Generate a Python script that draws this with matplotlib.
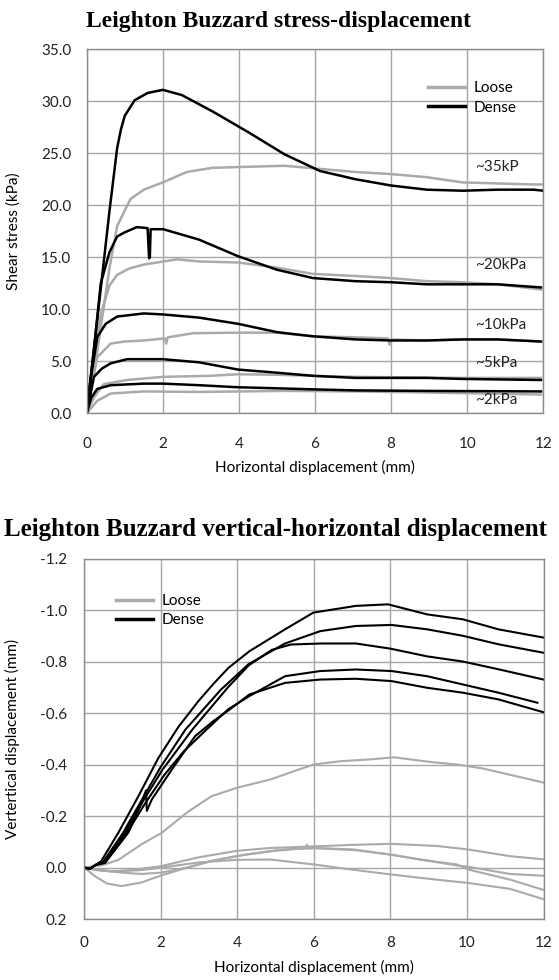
import matplotlib
matplotlib.use("Agg")
import matplotlib.pyplot as plt
from matplotlib.ticker import FormatStrFormatter
from matplotlib.lines import Line2D

plt.rcParams['font.family'] = ['Lato', 'DejaVu Sans']
plt.rcParams['axes.unicode_minus'] = False

# ---- stress vs horizontal displacement (mm, kPa) ----
d35_x = [0, 0.2, 0.4, 0.6, 0.8, 0.9, 1.0, 1.26, 1.6, 2.0, 2.5, 3.32, 4.26, 5.2, 6.13, 7.07, 8.0, 8.94, 9.88, 10.8, 11.75, 12.0]
d35_y = [0, 6.5, 13.0, 19.5, 25.5, 27.3, 28.6, 30.1, 30.8, 31.1, 30.6, 29.0, 27.0, 24.9, 23.3, 22.5, 21.9, 21.5, 21.4, 21.5, 21.5, 21.4]
l35_x = [0, 0.2, 0.4, 0.6, 0.8, 1.15, 1.5, 2.0, 2.63, 3.3, 4.2, 5.2, 6.13, 7.07, 8.0, 8.94, 9.88, 10.8, 11.75, 12.0]
l35_y = [0, 4.0, 9.0, 14.0, 18.0, 20.6, 21.5, 22.2, 23.2, 23.6, 23.7, 23.8, 23.5, 23.2, 23.0, 22.7, 22.2, 22.1, 22.0, 22.0]

d20_x = [0, 0.2, 0.37, 0.6, 0.8, 1.0, 1.32, 1.6, 1.64, 1.66, 1.68, 2.01, 2.95, 3.98, 5.0, 5.95, 7.07, 8.0, 8.94, 9.88, 10.8, 11.94]
d20_y = [0, 6.5, 12.5, 15.5, 17.0, 17.4, 17.9, 17.8, 14.9, 15.0, 17.7, 17.7, 16.7, 15.1, 13.8, 13.0, 12.7, 12.6, 12.4, 12.4, 12.4, 12.1]
l20_x = [0, 0.15, 0.37, 0.6, 0.8, 1.1, 1.5, 2.37, 2.95, 3.98, 5.0, 5.95, 7.07, 8.0, 8.94, 9.88, 10.8, 11.94]
l20_y = [0, 4.5, 9.5, 12.3, 13.3, 13.9, 14.3, 14.8, 14.6, 14.5, 14.0, 13.4, 13.2, 13.0, 12.7, 12.6, 12.4, 11.9]

d10_x = [0, 0.1, 0.28, 0.5, 0.8, 1.5, 2.01, 2.95, 3.98, 5.0, 5.95, 7.07, 8.0, 8.94, 9.88, 10.8, 11.94]
d10_y = [0, 3.2, 7.35, 8.6, 9.3, 9.6, 9.5, 9.2, 8.6, 7.8, 7.4, 7.1, 7.0, 7.0, 7.1, 7.1, 6.9]
l10_x = [0, 0.1, 0.28, 0.63, 1.0, 1.5, 2.05, 2.09, 2.13, 2.8, 3.98, 5.0, 5.95, 7.07, 7.92, 7.96, 8.0, 8.94, 9.88, 10.8, 11.94]
l10_y = [0, 2.2, 5.4, 6.7, 6.9, 7.0, 7.2, 6.7, 7.3, 7.7, 7.75, 7.75, 7.4, 7.3, 7.2, 6.6, 7.1, 7.0, 7.1, 7.1, 6.9]

d5_x = [0, 0.19, 0.4, 0.63, 1.06, 2.0, 2.95, 3.98, 5.0, 5.95, 7.07, 8.0, 8.94, 9.88, 11.94]
d5_y = [0, 3.5, 4.3, 4.8, 5.2, 5.2, 4.9, 4.2, 3.9, 3.6, 3.4, 3.4, 3.4, 3.3, 3.2]
l5_x = [0, 0.2, 0.45, 1.06, 2.0, 3.23, 3.98, 5.0, 5.95, 7.07, 9.88, 11.94]
l5_y = [0, 1.6, 2.8, 3.2, 3.5, 3.6, 3.75, 3.7, 3.6, 3.5, 3.4, 3.4]

d2_x = [0, 0.12, 0.28, 0.63, 1.5, 2.01, 2.95, 3.98, 5.0, 5.95, 7.07, 8.94, 11.94]
d2_y = [0, 1.5, 2.35, 2.7, 2.85, 2.85, 2.7, 2.5, 2.4, 2.3, 2.2, 2.15, 2.1]
l2_x = [0, 0.28, 0.63, 1.5, 2.95, 5.2, 7.07, 8.94, 11.94]
l2_y = [0, 1.2, 1.9, 2.1, 2.05, 2.15, 2.1, 2.0, 1.8]

labels_x = [10.2, 10.2, 10.2, 10.2, 10.2]
labels_y = [23.7, 14.3, 8.5, 4.8, 1.3]
labels_txt = ['~35kP', '~20kPa', '~10kPa', '~5kPa', '~2kPa']

# ---- vertical vs horizontal displacement (mm) ----
va_x = [0, 0.15, 0.3, 0.45, 0.9, 1.42, 1.94, 2.46, 2.98, 3.39, 3.77, 4.32, 5.25, 5.99, 7.1, 7.94, 8.96, 9.89, 10.82, 12.0]
va_y = [0, 0.005, -0.01, -0.025, -0.136, -0.277, -0.425, -0.545, -0.645, -0.715, -0.775, -0.84, -0.925, -0.99, -1.016, -1.022, -0.983, -0.964, -0.925, -0.893]
vb_x = [0, 0.15, 0.3, 0.5, 1.0, 1.5, 2.0, 2.65, 3.57, 4.3, 5.25, 6.17, 7.1, 8.03, 8.96, 9.89, 10.82, 12.0]
vb_y = [0, 0.005, -0.01, -0.022, -0.13, -0.26, -0.39, -0.536, -0.69, -0.79, -0.87, -0.918, -0.938, -0.942, -0.925, -0.9, -0.867, -0.834]
vc_x = [0, 0.15, 0.3, 0.5, 1.05, 1.55, 2.05, 2.83, 3.76, 4.3, 4.9, 5.4, 6.2, 7.1, 8.0, 8.96, 9.89, 10.82, 12.0]
vc_y = [0, 0.005, -0.01, -0.02, -0.13, -0.26, -0.38, -0.536, -0.70, -0.785, -0.845, -0.866, -0.87, -0.87, -0.85, -0.82, -0.80, -0.77, -0.73]
vd_x = [0, 0.15, 0.3, 0.55, 1.1, 1.6, 2.1, 2.6, 3.2, 3.77, 4.32, 5.25, 6.17, 7.1, 8.03, 8.96, 9.89, 10.82, 11.84]
vd_y = [0, 0.005, -0.01, -0.02, -0.13, -0.25, -0.36, -0.45, -0.536, -0.615, -0.666, -0.743, -0.763, -0.769, -0.763, -0.743, -0.711, -0.679, -0.64]
ve_x = [0, 0.15, 0.3, 0.55, 1.16, 1.5, 1.62, 1.64, 1.77, 2.29, 2.9, 3.39, 3.77, 4.32, 5.25, 6.17, 7.1, 8.03, 8.96, 9.89, 10.82, 12.0]
ve_y = [0, 0.005, -0.01, -0.018, -0.136, -0.25, -0.30, -0.22, -0.264, -0.38, -0.51, -0.57, -0.61, -0.672, -0.717, -0.73, -0.733, -0.724, -0.698, -0.679, -0.653, -0.603]

vl1_x = [0, 0.5, 0.9, 1.5, 2.03, 2.7, 3.33, 4.0, 4.87, 5.5, 6.0, 6.7, 7.48, 8.1, 9.04, 9.74, 10.4, 11.13, 12.0]
vl1_y = [0, -0.01, -0.03, -0.09, -0.135, -0.215, -0.277, -0.31, -0.342, -0.375, -0.40, -0.413, -0.42, -0.428, -0.41, -0.40, -0.385, -0.36, -0.33]
vl2_x = [0, 0.3, 0.7, 1.2, 2.0, 3.0, 4.0, 4.87, 6.0, 7.0, 8.02, 9.2, 10.04, 11.13, 12.0]
vl2_y = [0, 0.01, 0.015, 0.01, -0.005, -0.04, -0.065, -0.076, -0.082, -0.088, -0.092, -0.084, -0.07, -0.044, -0.032]
vl3_x = [0, 0.3, 0.6, 0.98, 1.5, 2.03, 2.7, 3.33, 4.2, 5.07, 5.8, 5.82, 5.86, 6.0, 7.05, 8.02, 8.8, 9.74, 10.04, 11.13, 12.0]
vl3_y = [0, 0.035, 0.062, 0.072, 0.058, 0.03, 0.0, -0.025, -0.05, -0.068, -0.075, -0.089, -0.074, -0.076, -0.07, -0.05, -0.031, -0.008, -0.003, 0.025, 0.032]
vl4_x = [0, 0.4, 1.0, 1.5, 2.0, 2.7, 3.3, 4.0, 4.87, 5.5, 6.0, 7.05, 8.02, 8.8, 9.74, 10.04, 11.13, 12.0]
vl4_y = [0, 0.01, 0.02, 0.025, 0.02, 0.0, -0.025, -0.045, -0.063, -0.072, -0.075, -0.068, -0.05, -0.03, -0.012, 0.008, 0.047, 0.087]
vl5_x = [0, 0.3, 0.8, 1.5, 2.03, 3.0, 4.0, 4.87, 6.0, 7.0, 8.02, 9.2, 10.04, 11.13, 12.0]
vl5_y = [0, 0.008, 0.015, 0.01, 0.0, -0.02, -0.03, -0.031, -0.012, 0.008, 0.027, 0.047, 0.06, 0.083, 0.123]

loose_c = '#aaaaaa'
dense_c = '#000000'
grid_c = '#a6a6a6'

fig = plt.figure(figsize=(5.59, 9.80), dpi=100)


def style(ax):
    ax.grid(True, color=grid_c, linewidth=1.0)
    ax.set_axisbelow(True)
    for s in ax.spines.values():
        s.set_color('#8c8c8c')
        s.set_linewidth(1.0)
    ax.tick_params(length=0, labelsize=11, colors='#222222')


# top chart
ax1 = fig.add_axes([0.1551, 0.5783, 0.8168, 0.3714])
for x, y in [(l35_x, l35_y), (l20_x, l20_y), (l10_x, l10_y), (l5_x, l5_y), (l2_x, l2_y)]:
    ax1.plot(x, y, color=loose_c, linewidth=1.8)
for x, y in [(d35_x, d35_y), (d20_x, d20_y), (d10_x, d10_y), (d5_x, d5_y), (d2_x, d2_y)]:
    ax1.plot(x, y, color=dense_c, linewidth=1.8)
for x, y, t in zip(labels_x, labels_y, labels_txt):
    ax1.text(x, y, t, fontsize=11, va='center', ha='left', color='#222222')
ax1.set_xlim(0, 12)
ax1.set_ylim(0, 35)
ax1.set_xticks(range(0, 13, 2))
ax1.set_yticks([0, 5, 10, 15, 20, 25, 30, 35])
ax1.yaxis.set_major_formatter(FormatStrFormatter('%.1f'))
style(ax1)
ax1.tick_params(axis='x', pad=17)
ax1.tick_params(axis='y', pad=11)
ax1.set_xlabel('Horizontal displacement (mm)', fontsize=11)
ax1.set_ylabel('Shear stress (kPa)', fontsize=11)
ax1.xaxis.set_label_coords(0.5, -0.128)
ax1.yaxis.set_label_coords(-0.144, 0.5)
h = [Line2D([], [], color=loose_c, linewidth=2.5), Line2D([], [], color=dense_c, linewidth=2.5)]
ax1.legend(h, ['Loose', 'Dense'], loc='center left', bbox_to_anchor=(0.748, 0.866),
           frameon=False, fontsize=11, handlelength=2.4, handletextpad=0.6,
           labelspacing=0.35, borderpad=0, borderaxespad=0)

# bottom chart
ax2 = fig.add_axes([0.1503, 0.0622, 0.8220, 0.3679])
for x, y in [(vl1_x, vl1_y), (vl2_x, vl2_y), (vl3_x, vl3_y), (vl4_x, vl4_y), (vl5_x, vl5_y)]:
    ax2.plot(x, y, color=loose_c, linewidth=1.5)
for x, y in [(va_x, va_y), (vb_x, vb_y), (vc_x, vc_y), (vd_x, vd_y), (ve_x, ve_y)]:
    ax2.plot(x, y, color=dense_c, linewidth=1.5)
ax2.set_xlim(0, 12)
ax2.set_ylim(0.2, -1.2)
ax2.set_xticks(range(0, 13, 2))
ax2.set_yticks([-1.2, -1.0, -0.8, -0.6, -0.4, -0.2, 0.0, 0.2])
ax2.yaxis.set_major_formatter(FormatStrFormatter('%.1f'))
style(ax2)
ax2.tick_params(axis='x', pad=12)
ax2.tick_params(axis='y', pad=12)
ax2.set_xlabel('Horizontal displacement (mm)', fontsize=11)
ax2.set_ylabel('Vertertical displacement (mm)', fontsize=11)
ax2.xaxis.set_label_coords(0.5, -0.114)
ax2.yaxis.set_label_coords(-0.139, 0.5)
ax2.legend(h, ['Loose', 'Dense'], loc='center left', bbox_to_anchor=(0.07, 0.855),
           frameon=False, fontsize=11, handlelength=2.4, handletextpad=0.6,
           labelspacing=0.35, borderpad=0, borderaxespad=0)

fig.text(279 / 559, 1 - 22 / 980, 'Leighton Buzzard stress-displacement',
         family='Liberation Serif', weight='bold', fontsize=17, ha='center', va='center')
fig.text(276 / 559, 1 - 529 / 980, 'Leighton Buzzard vertical-horizontal displacement',
         family='Liberation Serif', weight='bold', fontsize=18, ha='center', va='center')

fig.savefig('out.png', dpi=100)
